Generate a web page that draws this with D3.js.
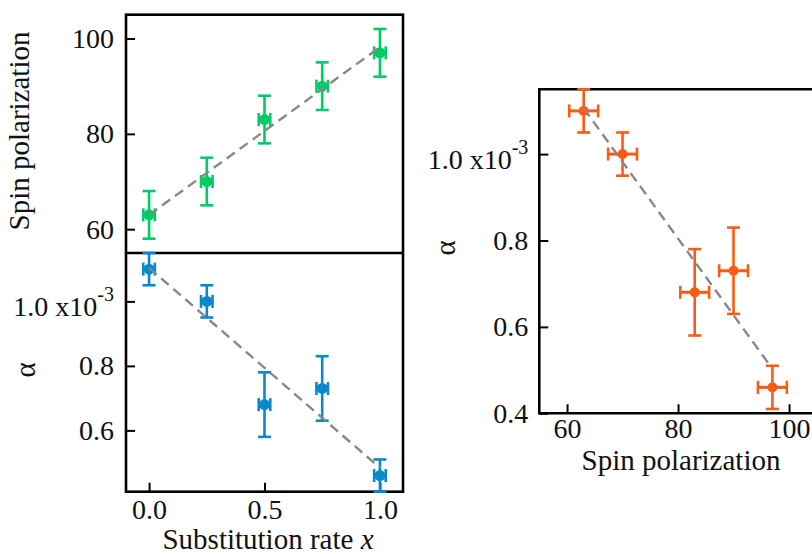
<!DOCTYPE html>
<html><head><meta charset="utf-8">
<script src="https://cdn.jsdelivr.net/npm/d3@7"></script>
<style>
body{margin:0;background:#fff;}
svg{display:block;}
text{font-family:"Liberation Serif","Times New Roman",serif;fill:#111;}
</style></head>
<body><svg id="c" width="812" height="554"></svg>
<script>
// ---------- data ----------
const substitutionRate = [0.0, 0.25, 0.5, 0.75, 1.0];
const spinPolarization = [63, 70, 83, 90, 97];
const spinPolErr = [5, 5, 5, 5, 5];
const alphaValues = [1.10, 1.00, 0.68, 0.73, 0.46];   // x10^-3
const alphaErr = [0.05, 0.05, 0.10, 0.10, 0.05];
const rateErr = [0.025, 0.025, 0.025, 0.025, 0.025];
const spinPolXErr = [2.6, 2.6, 2.6, 2.6, 2.6];
// fitted straight lines (endpoints)
const fitSpinVsRate = {x: [0.0, 1.0], y: [63.0, 98.2]};
const fitAlphaVsRate = {x: [0.0, 1.0], y: [1.104, 0.484]};
const fitAlphaVsSpin = {x: [63, 97], y: [1.106, 0.503]};
// ticks
const rateTicks = [0.0, 0.5, 1.0];
const spinTicksTop = [60, 80, 100];
const alphaTicksLeft = [0.6, 0.8, 1.0];
const spinTicksRight = [60, 80, 100];
const alphaTicksRight = [0.4, 0.6, 0.8, 1.0];

const colors = {green: "#00cc66", blue: "#0a88cc", orange: "#ff5a14", fit: "#888888"};
const FONT = '"Liberation Serif","Times New Roman",serif';
const FS = 28;
const TFS = 29;

const svg = d3.select("#c");

// ---------- scales ----------
const xRate = d3.scaleLinear().domain([-0.1, 1.1]).range([126, 403]);
const ySpinTop = d3.scaleLinear().domain([55, 105]).range([253, 14.7]);
const yAlphaLeft = d3.scaleLinear().domain([0.41, 1.15]).range([491.7, 253]);
const xSpinRight = d3.scaleLinear().domain([55, 105]).range([539.3, 816.8]);
const yAlphaRight = d3.scaleLinear().domain([0.4, 1.15]).range([413.3, 89.3]);

function fmtAlpha(d){ return d3.format(".1f")(d); }

function styleAxis(g){
  g.attr("font-family", FONT);
  g.select(".domain").remove();
  g.selectAll(".tick line").attr("stroke","#000").attr("stroke-width",2);
  g.selectAll(".tick text").attr("font-size",FS).attr("fill","#111").attr("font-family",FONT);
}
function sciLabel(g, val){
  g.selectAll(".tick").filter(d => Math.abs(d - val) < 1e-9).select("text")
    .each(function(){
      const t = d3.select(this);
      t.text(null).attr("dy", null).attr("y", 14);
      t.append("tspan").text("1.0 x10");
      t.append("tspan").attr("font-size", 20).attr("dy", -15).text("-3");
    });
}

// ---------- frames ----------
const frame = svg.append("g").attr("fill","none").attr("stroke","#000").attr("stroke-width",2.6);
frame.append("rect").attr("x",126).attr("y",14.7).attr("width",403-126).attr("height",491.7-14.7);
frame.append("line").attr("x1",126).attr("x2",403).attr("y1",253).attr("y2",253);
frame.append("path").attr("d",`M812,89.3H539.3V413.3H812`);

// ---------- axes ----------
svg.append("g").attr("transform","translate(126,0)")
  .call(d3.axisLeft(ySpinTop).tickValues(spinTicksTop).tickSize(-9).tickPadding(12).tickFormat(d3.format("d")))
  .call(styleAxis);
svg.append("g").attr("transform","translate(126,0)")
  .call(d3.axisLeft(yAlphaLeft).tickValues(alphaTicksLeft).tickSize(-9).tickPadding(12).tickFormat(fmtAlpha))
  .call(styleAxis)
  .call(g => sciLabel(g, 1.0));
svg.append("g").attr("transform","translate(0,491.7)")
  .call(d3.axisBottom(xRate).tickValues(rateTicks).tickSize(-9).tickPadding(7).tickFormat(d3.format(".1f")))
  .call(styleAxis);

svg.append("g").attr("transform","translate(539.3,0)")
  .call(d3.axisLeft(yAlphaRight).tickValues(alphaTicksRight).tickSize(-9).tickPadding(11).tickFormat(fmtAlpha))
  .call(styleAxis)
  .call(g => sciLabel(g, 1.0));
svg.append("g").attr("transform","translate(0,413.3)")
  .call(d3.axisBottom(xSpinRight).tickValues(spinTicksRight).tickSize(-9).tickPadding(5).tickFormat(d3.format("d")))
  .call(styleAxis);

// ---------- titles ----------
function title(sel){ return sel.attr("font-family",FONT).attr("font-size",TFS).attr("fill","#111"); }
title(svg.append("text")).attr("transform","translate(29,131) rotate(-90)").attr("text-anchor","middle").text("Spin polarization");
title(svg.append("text")).attr("transform","translate(35,370) rotate(-90)").attr("text-anchor","middle").text("α");
const xt = title(svg.append("text")).attr("x",268).attr("y",549).attr("text-anchor","middle");
xt.append("tspan").text("Substitution rate ");
xt.append("tspan").attr("font-style","italic").text("x");
title(svg.append("text")).attr("transform","translate(455,248) rotate(-90)").attr("text-anchor","middle").text("α");
title(svg.append("text")).attr("x",681).attr("y",470).attr("text-anchor","middle").text("Spin polarization");

// ---------- fit lines ----------
function fitLine(fit, xs, ys){
  svg.append("line")
    .attr("x1", xs(fit.x[0])).attr("y1", ys(fit.y[0]))
    .attr("x2", xs(fit.x[1])).attr("y2", ys(fit.y[1]))
    .attr("stroke", colors.fit).attr("stroke-width", 2.4).attr("stroke-dasharray","10,6");
}

// ---------- error bar series ----------
function series(xv, yv, xe, ye, xs, ys, color, clipY, r){
  const g = svg.append("g").attr("stroke", color).attr("fill", color).attr("stroke-width", 2.6);
  const cap = 6.5;
  xv.forEach((x, i) => {
    const cx = xs(x), cy = ys(yv[i]);
    const yTop = Math.max(ys(yv[i] + ye[i]), clipY[0]);
    const yBot = Math.min(ys(yv[i] - ye[i]), clipY[1]);
    g.append("line").attr("x1",cx).attr("x2",cx).attr("y1",yTop).attr("y2",yBot);
    if (ys(yv[i] + ye[i]) >= clipY[0] - 0.5) g.append("line").attr("x1",cx-cap).attr("x2",cx+cap).attr("y1",yTop).attr("y2",yTop);
    if (ys(yv[i] - ye[i]) <= clipY[1] + 0.5) g.append("line").attr("x1",cx-cap).attr("x2",cx+cap).attr("y1",yBot).attr("y2",yBot);
    const xl = xs(x - xe[i]), xr = xs(x + xe[i]);
    g.append("line").attr("x1",xl).attr("x2",xr).attr("y1",cy).attr("y2",cy).attr("stroke-width", 3);
    g.append("line").attr("x1",xl).attr("x2",xl).attr("y1",cy-cap).attr("y2",cy+cap);
    g.append("line").attr("x1",xr).attr("x2",xr).attr("y1",cy-cap).attr("y2",cy+cap);
    g.append("circle").attr("cx",cx).attr("cy",cy).attr("r",r).attr("stroke","none");
  });
}

series(substitutionRate, spinPolarization, rateErr, spinPolErr, xRate, ySpinTop, colors.green, [14.7, 253], 5.5);
fitLine(fitSpinVsRate, xRate, ySpinTop);
series(substitutionRate, alphaValues, rateErr, alphaErr, xRate, yAlphaLeft, colors.blue, [253, 491.7], 5.5);
fitLine(fitAlphaVsRate, xRate, yAlphaLeft);
series(spinPolarization, alphaValues, spinPolXErr, alphaErr, xSpinRight, yAlphaRight, colors.orange, [89.3, 413.3], 5);
fitLine(fitAlphaVsSpin, xSpinRight, yAlphaRight);
</script>
</body></html>
